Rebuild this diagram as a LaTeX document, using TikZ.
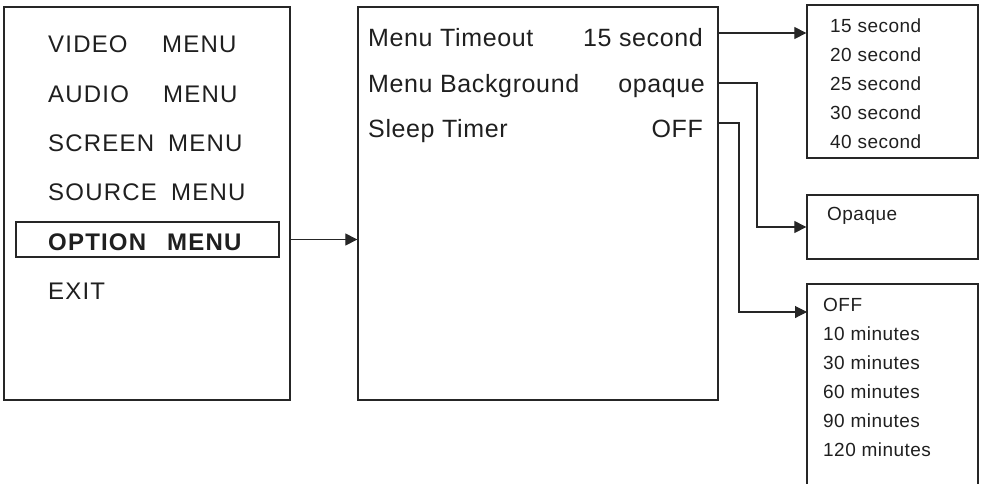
\documentclass[tikz,border=0pt]{standalone}
\usepackage{fontspec}
\setmainfont{Liberation Sans}
\usetikzlibrary{arrows.meta}
\begin{document}
\begin{tikzpicture}[x=1pt,y=-1pt,
  box/.style={draw=black!85,line width=1.3pt},
  conn/.style={draw=black!85,line width=1.1pt,-{Triangle[length=12pt,width=12pt]}},
  lt/.style={anchor=base west,inner sep=0pt,font=\fontsize{24}{28}\selectfont\addfontfeatures{LetterSpace=5},text=black!88},
  ltb/.style={anchor=base west,inner sep=0pt,font=\fontsize{24}{28}\selectfont\bfseries\addfontfeatures{LetterSpace=5},text=black!88},
  mt/.style={inner sep=0pt,font=\fontsize{25}{29}\selectfont\addfontfeatures{LetterSpace=2.5},text=black!88},
  rt/.style={anchor=base west,inner sep=0pt,font=\fontsize{19}{22}\selectfont\addfontfeatures{LetterSpace=2.5},text=black!88}]
\useasboundingbox (0,0) rectangle (983,483);
% boxes
\node[box,inner sep=0pt,minimum width=286pt,minimum height=393pt] (left) at (147,203.5) {};
\node[box,inner sep=0pt,minimum width=263pt,minimum height=35pt] (opt) at (147.5,239.5) {};
\node[box,inner sep=0pt,minimum width=360pt,minimum height=393pt] (mid) at (538,203.5) {};
\node[box,inner sep=0pt,minimum width=171pt,minimum height=153pt] (r1) at (892.5,81.5) {};
\node[box,inner sep=0pt,minimum width=171pt,minimum height=64pt] (r2) at (892.5,227) {};
\draw[box] (807,490) -- (807,284) -- (978,284) -- (978,490);
\coordinate (r3) at (807,312);
% left texts
\node[lt] (v1) at (48,52) {VIDEO};
\node[lt] (v2) at (162,52) {MENU};
\node[lt] (a1) at (48,102) {AUDIO};
\node[lt] (a2) at (163,102) {MENU};
\node[lt] (s1) at (48,151) {SCREEN};
\node[lt] (s2) at (168,151) {MENU};
\node[lt] (o1) at (48,200) {SOURCE};
\node[lt] (o2) at (171,200) {MENU};
\node[ltb] (p1) at (48,250) {OPTION};
\node[ltb] (p2) at (167,250) {MENU};
\node[lt] (e1) at (48,299) {EXIT};
% middle texts
\node[mt,anchor=base west] (m1) at (368,46) {Menu Timeout};
\node[mt,anchor=base east] (m1v) at (703,46) {15 second};
\node[mt,anchor=base west] (m2) at (368,92) {Menu Background};
\node[mt,anchor=base east] (m2v) at (705,92) {opaque};
\node[mt,anchor=base west] (m3) at (368,137) {Sleep Timer};
\node[mt,anchor=base east] (m3v) at (703,137) {OFF};
% right texts
\node[rt] (t1) at (830,32) {15 second};
\node[rt] (t2) at (830,61.5) {20 second};
\node[rt] (t3) at (830,90.5) {25 second};
\node[rt] (t4) at (830,119.5) {30 second};
\node[rt] (t5) at (830,148.5) {40 second};
\node[rt] (q1) at (827,220) {Opaque};
\node[rt] (f1) at (823,311) {OFF};
\node[rt] (f2) at (823,340) {10 minutes};
\node[rt] (f3) at (823,369) {30 minutes};
\node[rt] (f4) at (823,398) {60 minutes};
\node[rt] (f5) at (823,427) {90 minutes};
\node[rt] (f6) at (823,456) {120 minutes};
% connectors
\coordinate (c0) at (left.east |- opt.east);
\draw[conn] (c0) -- (mid.west |- c0);
\coordinate (c1) at (718,33);
\draw[conn] (c1) -- (r1.west |- c1);
\coordinate (c2) at (718,83);
\draw[conn] (c2) -| (757,227) -- (r2.west);
\coordinate (c3) at (718,123);
\draw[conn] (c3) -| (739,312) -- (r3);
\end{tikzpicture}
\end{document}
